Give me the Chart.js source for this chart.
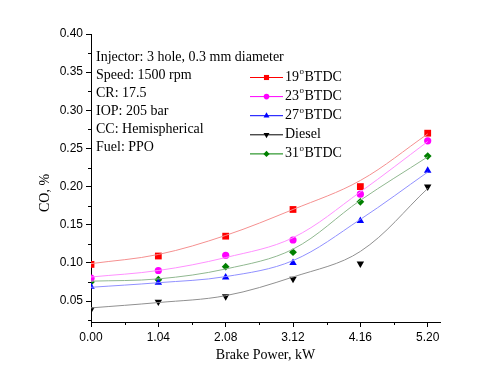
<!DOCTYPE html>
<html><head><meta charset="utf-8">
<script src="https://cdn.jsdelivr.net/npm/chart.js@4/dist/chart.umd.min.js"></script>
<style>html,body{margin:0;padding:0;background:#fff}#wrap{width:491px;height:378px}</style>
</head><body><div id="wrap"><canvas id="c" width="491" height="378"></canvas></div>
<script>
const brakePower = [0.00, 1.04, 2.08, 3.12, 4.16, 5.20];
// measured points
const co19 = [0.098, 0.109, 0.135, 0.170, 0.200, 0.270];
const co23 = [0.080, 0.090, 0.110, 0.130, 0.190, 0.260];
const co27 = [0.069, 0.074, 0.081, 0.100, 0.155, 0.221];
const coDiesel = [0.039, 0.049, 0.056, 0.079, 0.099, 0.200];
const co31 = [0.075, 0.078, 0.095, 0.114, 0.180, 0.240];
// fitted trend curves at the same loads
const fit19 = [0.099, 0.111, 0.136, 0.170, 0.208, 0.269];
const fit23 = [0.0815, 0.090, 0.107, 0.133, 0.193, 0.259];
const fit27 = [0.068, 0.074, 0.082, 0.103, 0.157, 0.219];
const fitDiesel = [0.041, 0.048, 0.057, 0.0815, 0.115, 0.1975];
const fit31 = [0.076, 0.079, 0.092, 0.118, 0.182, 0.239];
const seriesNames = ['19', '23', '27', 'Diesel', '31'];
const xTicks = [0.00, 1.04, 2.08, 3.12, 4.16, 5.20];
const xMinorTicks = [0.52, 1.56, 2.60, 3.64, 4.68];
const yTicks = [0.05, 0.10, 0.15, 0.20, 0.25, 0.30, 0.35, 0.40];
const yMinorTicks = [0.025, 0.075, 0.125, 0.175, 0.225, 0.275, 0.325, 0.375];
const infoLines = ['Injector: 3 hole, 0.3 mm diameter', 'Speed: 1500 rpm', 'CR: 17.5', 'IOP: 205 bar', 'CC: Hemispherical', 'Fuel: PPO'];

const pts = arr => brakePower.map((x, i) => ({x, y: arr[i]}));
const styles = [
  {data: co19, fit: fit19, color: '#ff0000', line: '#f59090', ps: 'rect', rot: 0, r: 4.8, lr: 3.6},
  {data: co23, fit: fit23, color: '#ff00ff', line: '#ff90ff', ps: 'circle', rot: 0, r: 3.6, lr: 2.8},
  {data: co27, fit: fit27, color: '#0000ff', line: '#9090ff', ps: 'triangle', rot: 0, r: 4.3, lr: 3.4},
  {data: coDiesel, fit: fitDiesel, color: '#000000', line: '#909090', ps: 'triangle', rot: 180, r: 4.3, lr: 3.4},
  {data: co31, fit: fit31, color: '#008000', line: '#90b890', ps: 'rectRot', rot: 0, r: 3.9, lr: 3.1}
];
const order = [0, 1, 2, 4, 3];
const lineSets = order.map(i => {
  const s = styles[i];
  return {
    label: seriesNames[i] + ' fit', data: pts(s.fit), showLine: true, borderColor: s.line, borderWidth: 1,
    pointRadius: 0, tension: 0.35, fill: false
  };
});
const markerSets = order.map(i => {
  const s = styles[i];
  return {
    label: seriesNames[i], data: pts(s.data), showLine: false,
    backgroundColor: s.color, pointBackgroundColor: s.color, pointBorderColor: s.color,
    pointStyle: s.ps, rotation: s.rot, pointRadius: s.r, pointBorderWidth: 0
  };
});

const deco = {
  id: 'deco',
  afterDraw(chart) {
    const ctx = chart.ctx, xs = chart.scales.x, ys = chart.scales.y;
    ctx.save();
    ctx.strokeStyle = '#000'; ctx.lineWidth = 1;
    ctx.beginPath();
    yMinorTicks.forEach(v => {
      if (v < ys.min || v > ys.max) return;
      const p = Math.round(ys.getPixelForValue(v)) + 0.5;
      ctx.moveTo(xs.left - 3, p); ctx.lineTo(xs.left, p);
    });
    xMinorTicks.forEach(v => {
      const p = Math.round(xs.getPixelForValue(v)) + 0.5;
      ctx.moveTo(p, ys.bottom); ctx.lineTo(p, ys.bottom + 3);
    });
    ctx.stroke();
    ctx.fillStyle = '#000';
    ctx.font = '14px "Liberation Serif"';
    ctx.textAlign = 'center'; ctx.textBaseline = 'middle';
    ctx.fillText('Brake Power, kW', (xs.left + xs.right) / 2, 355);
    ctx.save();
    ctx.translate(45, 193); ctx.rotate(-Math.PI / 2);
    ctx.fillText('CO, %', 0, 0);
    ctx.restore();
    ctx.textAlign = 'left';
    infoLines.forEach((t, i) => ctx.fillText(t, 96, 57 + i * 18));
    styles.forEach((s, i) => {
      const y = 77 + i * 19.1;
      ctx.strokeStyle = s.color; ctx.lineWidth = 1;
      ctx.beginPath(); ctx.moveTo(250, y + 0.5); ctx.lineTo(283, y + 0.5); ctx.stroke();
      ctx.fillStyle = s.color;
      Chart.helpers.drawPoint(ctx, {pointStyle: s.ps, rotation: s.rot, radius: s.lr, borderWidth: 0}, 266.5, y + 0.5);
      ctx.fillStyle = '#000';
      ctx.font = '14px "Liberation Serif"';
      if (seriesNames[i] === 'Diesel') {
        ctx.fillText('Diesel', 285, y);
      } else {
        const n = seriesNames[i];
        ctx.fillText(n, 285, y);
        const w = ctx.measureText(n).width;
        ctx.font = '9px "Liberation Serif"';
        ctx.fillText('o', 285 + w + 0.5, y - 5);
        const w2 = ctx.measureText('o').width;
        ctx.font = '14px "Liberation Serif"';
        ctx.fillText('BTDC', 285 + w + w2 + 1, y);
      }
    });
    ctx.restore();
  }
};

new Chart(document.getElementById('c'), {
  type: 'scatter',
  data: {datasets: lineSets.concat(markerSets)},
  options: {
    responsive: false, animation: false, devicePixelRatio: 1,
    layout: {padding: {left: 0, right: 51, top: 34, bottom: 0}},
    plugins: {legend: {display: false}, tooltip: {enabled: false}},
    scales: {
      x: {
        type: 'linear', min: 0, max: 5.39,
        afterBuildTicks: s => { s.ticks = xTicks.map(v => ({value: v})); },
        afterFit: s => { s.height = 56; },
        ticks: {color: '#000', font: {family: 'Liberation Sans', size: 12}, padding: 3, maxRotation: 0,
          callback: v => Number(v).toFixed(2)},
        grid: {display: true, drawOnChartArea: false, drawTicks: true, tickLength: 5, color: '#000'},
        border: {display: true, color: '#000', width: 1}
      },
      y: {
        type: 'linear', min: 0.0225, max: 0.40,
        afterBuildTicks: s => { s.ticks = yTicks.map(v => ({value: v})); },
        afterFit: s => { s.width = 91; },
        ticks: {color: '#000', font: {family: 'Liberation Sans', size: 12}, padding: 3,
          callback: v => Number(v).toFixed(2)},
        grid: {display: true, drawOnChartArea: false, drawTicks: true, tickLength: 5, color: '#000'},
        border: {display: true, color: '#000', width: 1}
      }
    }
  },
  plugins: [deco]
});
</script>
</body></html>
